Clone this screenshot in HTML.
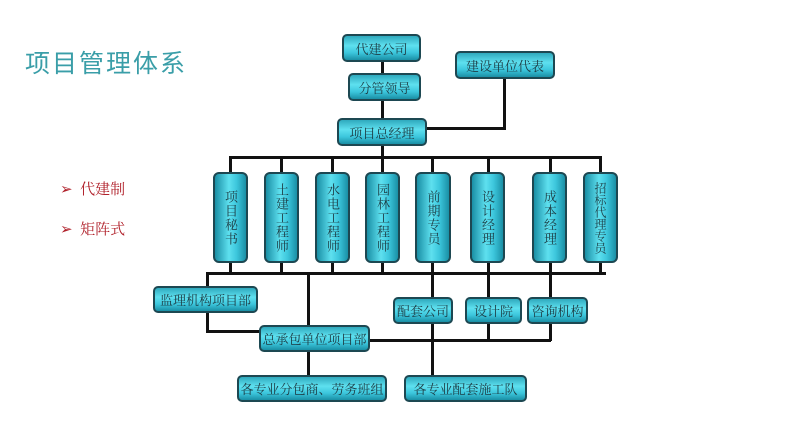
<!DOCTYPE html>
<html><head><meta charset="utf-8"><style>
body{margin:0;width:800px;height:448px;background:#fff;position:relative;overflow:hidden;font-family:"Liberation Serif","Noto Serif CJK SC",serif}
.b{position:absolute;box-sizing:border-box;border:2px solid #1d4852;border-radius:5px;background:linear-gradient(#2fa9bd,#5ee0ef 40%,#3cc6dc 70%,#1a8fa5);color:#1d3c44;font-size:13px;display:flex;align-items:center;justify-content:center;white-space:nowrap}
.v{background:linear-gradient(90deg,#1a8fa5,#5ee0ef 45%,#3cc6dc 70%,#1a8fa5);writing-mode:vertical-rl;text-orientation:upright;font-size:13px;letter-spacing:1px;align-items:center;justify-content:center;border-radius:6px}
.l{position:absolute;background:#111}
.t{position:absolute;left:25px;top:44px;font-size:25px;color:#3a9ea8;font-family:"Liberation Sans","Noto Sans CJK SC",sans-serif;letter-spacing:2px}
.r{position:absolute;left:60px;color:#b0202a;font-size:15px;font-family:"Liberation Serif","Noto Serif CJK SC",serif}
</style></head><body>
<div class="t">项目管理体系</div>
<div class="r" style="top:178px">➢&nbsp; 代建制</div>
<div class="r" style="top:218px">➢&nbsp; 矩阵式</div>
<!-- lines -->
<div class="l" style="left:381px;top:60px;width:3px;height:60px"></div>
<div class="l" style="left:503px;top:77px;width:3px;height:53px"></div>
<div class="l" style="left:425px;top:127px;width:81px;height:3px"></div>
<div class="l" style="left:381px;top:144px;width:3px;height:14px"></div>
<div class="l" style="left:230px;top:156px;width:372px;height:3px"></div>
<div class="l" style="left:206px;top:272px;width:400px;height:3px"></div>
<div class="l" style="left:229px;top:156px;width:3px;height:118px"></div>
<div class="l" style="left:280px;top:156px;width:3px;height:118px"></div>
<div class="l" style="left:331px;top:156px;width:3px;height:118px"></div>
<div class="l" style="left:381px;top:156px;width:3px;height:118px"></div>
<div class="l" style="left:431px;top:156px;width:3px;height:220px"></div>
<div class="l" style="left:487px;top:156px;width:3px;height:185px"></div>
<div class="l" style="left:549px;top:156px;width:3px;height:185px"></div>
<div class="l" style="left:599px;top:156px;width:3px;height:118px"></div>
<div class="l" style="left:206px;top:272px;width:3px;height:60px"></div>
<div class="l" style="left:206px;top:330px;width:55px;height:3px"></div>
<div class="l" style="left:307px;top:272px;width:3px;height:104px"></div>
<div class="l" style="left:368px;top:339px;width:183px;height:3px"></div>
<!-- boxes -->
<div class="b" style="left:342px;top:34px;width:79px;height:28px">代建公司</div>
<div class="b" style="left:455px;top:51px;width:100px;height:28px">建设单位代表</div>
<div class="b" style="left:348px;top:73px;width:73px;height:28px">分管领导</div>
<div class="b" style="left:337px;top:118px;width:90px;height:28px">项目总经理</div>
<div class="b v" style="left:213px;top:172px;width:35px;height:91px">项目秘书</div>
<div class="b v" style="left:264px;top:172px;width:35px;height:91px">土建工程师</div>
<div class="b v" style="left:315px;top:172px;width:35px;height:91px">水电工程师</div>
<div class="b v" style="left:365px;top:172px;width:35px;height:91px">园林工程师</div>
<div class="b v" style="left:415px;top:172px;width:36px;height:91px">前期专员</div>
<div class="b v" style="left:470px;top:172px;width:35px;height:91px">设计经理</div>
<div class="b v" style="left:532px;top:172px;width:35px;height:91px">成本经理</div>
<div class="b v" style="left:583px;top:172px;width:35px;height:91px;letter-spacing:0;font-size:12px">招标代理专员</div>
<div class="b" style="left:153px;top:286px;width:105px;height:27px">监理机构项目部</div>
<div class="b" style="left:393px;top:297px;width:60px;height:27px">配套公司</div>
<div class="b" style="left:465px;top:297px;width:57px;height:27px">设计院</div>
<div class="b" style="left:527px;top:297px;width:61px;height:27px">咨询机构</div>
<div class="b" style="left:259px;top:325px;width:111px;height:27px">总承包单位项目部</div>
<div class="b" style="left:237px;top:375px;width:150px;height:27px">各专业分包商、劳务班组</div>
<div class="b" style="left:404px;top:375px;width:123px;height:27px">各专业配套施工队</div>
</body></html>
